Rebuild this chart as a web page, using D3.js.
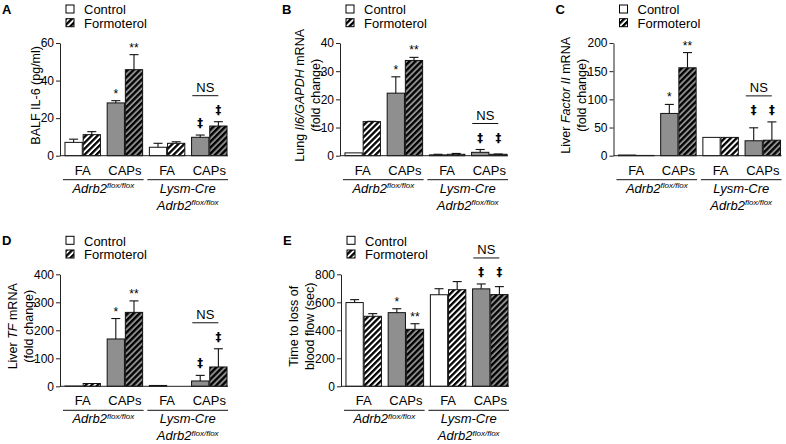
<!DOCTYPE html>
<html><head><meta charset="utf-8">
<script src="https://cdn.jsdelivr.net/npm/d3@7"></script>
<style>
body{margin:0;background:#fff;}
svg{display:block;font-family:"Liberation Sans",Arial,Helvetica,sans-serif;}
</style></head><body>
<svg id="chart" width="786" height="444"></svg>
<script>
// ---------- data ----------
const categories = ["FA", "CAPs", "FA", "CAPs"];
const treatments = ["Control", "Formoterol"];
const genotypes = [[["Adrb2", "flox/flox"]], [["Lysm-Cre", ""], ["Adrb2", "flox/flox"]]];

const aMean = [7.1, 11.2, 28.1, 45.8, 4.5, 6.6, 9.8, 15.8];
const aErr  = [8.8, 12.8, 29.3, 53.8, 6.6, 7.4, 11.0, 18.1];
const aTicks = [0, 20, 40, 60];

const bMean = [1.0, 12.1, 22.2, 33.8, 0.3, 0.5, 1.2, 0.5];
const bErr  = [1.0, 12.2, 28.0, 34.9, 0.5, 0.8, 2.2, 0.6];
const bTicks = [0, 10, 20, 30, 40];

const cMean = [1.2, 0.5, 75, 156, 32.5, 32.5, 26.5, 27.5];
const cErr  = [1.2, 0.5, 91, 183, 32.5, 32.5, 49.5, 60];
const cTicks = [0, 50, 100, 150, 200];

const dMean = [1, 10, 169, 264, 3, 0, 19, 69];
const dErr  = [1, 10, 242, 305, 3, 0, 39, 134];
const dTicks = [0, 100, 200, 300, 400];

const eMean = [598, 500, 526, 407, 654, 690, 696, 655];
const eErr  = [619, 519, 554, 447, 697, 748, 731, 712];
const eTicks = [0, 200, 400, 600, 800];

const aLabel = [[["BALF IL-6 (pg/ml)", false]]];
const bLabel = [[["Lung ", false], ["Il6/GAPDH", true], [" mRNA", false]], [["(fold change)", false]]];
const cLabel = [[["Liver ", false], ["Factor II", true], [" mRNA", false]], [["(fold change)", false]]];
const dLabel = [[["Liver ", false], ["TF", true], [" mRNA", false]], [["(fold change)", false]]];
const eLabel = [[["Time to loss of", false]], [["blood flow (sec)", false]]];

const stars = ["", "", "*", "**", "", "", "", ""];
const daggers = ["", "", "", "", "", "", "\u2021", "\u2021"];
const nsLabel = "NS";

// ---------- layout ----------
const panels = [
  {letter: "A", mean: aMean, err: aErr, ticks: aTicks, ylab: aLabel, ax: 60,    top: 43,    base: 155.7},
  {letter: "B", mean: bMean, err: bErr, ticks: bTicks, ylab: bLabel, ax: 340,   top: 43,    base: 155.7},
  {letter: "C", mean: cMean, err: cErr, ticks: cTicks, ylab: cLabel, ax: 613.5, top: 43,    base: 155.7},
  {letter: "D", mean: dMean, err: dErr, ticks: dTicks, ylab: dLabel, ax: 60,    top: 274.3, base: 386.3},
  {letter: "E", mean: eMean, err: eErr, ticks: eTicks, ylab: eLabel, ax: 341,   top: 274.3, base: 386.3}
];

const GRAY = "#8f8f8f";
const svg = d3.select("#chart");
const defs = svg.append("defs");
function hatch(id, bg) {
  const p = defs.append("pattern").attr("id", id).attr("patternUnits", "userSpaceOnUse")
    .attr("width", 4.2).attr("height", 4.2).attr("patternTransform", "rotate(45)");
  p.append("rect").attr("width", 4.2).attr("height", 4.2).attr("fill", bg);
  p.append("rect").attr("width", 2.3).attr("height", 4.2).attr("fill", "#000");
}
hatch("hatchW", "#fff");
hatch("hatchG", GRAY);

function fillFor(i) {
  const g = Math.floor(i / 2), t = i % 2;
  const gray = g % 2 === 1;
  if (t === 1) return gray ? "url(#hatchG)" : "url(#hatchW)";
  return gray ? GRAY : "#fff";
}

function richText(sel, parts) {
  parts.forEach(([txt, it]) => {
    sel.append("tspan").text(txt).attr("font-style", it ? "italic" : null);
  });
}

panels.forEach(p => {
  const g = svg.append("g");
  const maxT = d3.max(p.ticks);
  const y = d3.scaleLinear().domain([0, maxT]).range([p.base, p.top]);
  const groupKeys = categories.map((c, i) => i);
  const x0 = d3.scaleBand().domain(groupKeys).range([p.ax, p.ax + 172]).paddingInner(0.16).paddingOuter(0.118);
  const x1 = d3.scaleBand().domain(treatments).range([0, x0.bandwidth()]).paddingInner(0.05);
  const bx = i => x0(Math.floor(i / 2)) + x1(treatments[i % 2]);
  const bw = x1.bandwidth();

  // panel letter
  g.append("text").attr("x", p.ax - 58).attr("y", p.top - 29)
    .attr("font-size", 13).attr("font-weight", 900).text(p.letter);

  // legend
  treatments.forEach((t, k) => {
    const ly = p.top - 38 + k * 13.7;
    g.append("rect").attr("x", p.ax + 6).attr("y", ly).attr("width", 8).attr("height", 8)
      .attr("fill", k === 0 ? "#fff" : "url(#hatchW)").attr("stroke", "#000").attr("stroke-width", 1);
    g.append("text").attr("x", p.ax + 24).attr("y", ly + 9.3).attr("font-size", 13).text(t);
  });

  // bars + error bars
  p.mean.forEach((v, i) => {
    const h = p.base - y(v);
    if (v > 0) {
      g.append("rect").attr("x", bx(i)).attr("y", y(v)).attr("width", bw).attr("height", h)
        .attr("fill", fillFor(i)).attr("stroke", "#111").attr("stroke-width", 1);
    }
    const e = p.err[i];
    if (e > v) {
      const cx = bx(i) + bw / 2;
      g.append("line").attr("x1", cx).attr("x2", cx).attr("y1", y(v)).attr("y2", y(e))
        .attr("stroke", "#111").attr("stroke-width", 1.1);
      g.append("line").attr("x1", cx - 4.5).attr("x2", cx + 4.5).attr("y1", y(e)).attr("y2", y(e))
        .attr("stroke", "#111").attr("stroke-width", 1.1);
    }
  });

  // y axis
  const yAxis = d3.axisLeft(y).tickValues(p.ticks).tickSize(4).tickSizeOuter(0).tickPadding(2);
  const ya = g.append("g").attr("transform", `translate(${p.ax},0)`).call(yAxis);
  ya.attr("font-family", null).attr("font-size", null);
  ya.selectAll("text").attr("font-size", 12).attr("fill", "#000");
  ya.selectAll("line,path").attr("stroke", "#222");
  let tickW = 0;
  ya.selectAll("text").each(function () { tickW = Math.max(tickW, this.getComputedTextLength()); });

  // x baseline
  g.append("line").attr("x1", p.ax).attr("x2", x0(3) + x0.bandwidth() + 1)
    .attr("y1", p.base).attr("y2", p.base).attr("stroke", "#222").attr("stroke-width", 1);

  // y label
  const n = p.ylab.length;
  const lastX = p.ax - 6 - tickW - 1;
  const cy = (p.top + p.base) / 2 - 4;
  p.ylab.forEach((line, k) => {
    const lx = lastX - (n - 1 - k) * 16;
    const t = g.append("text").attr("transform", `translate(${lx},${cy}) rotate(-90)`)
      .attr("text-anchor", "middle").attr("font-size", 12.5);
    richText(t, line);
  });

  // category labels
  categories.forEach((c, k) => {
    g.append("text").attr("x", x0(k) + x0.bandwidth() / 2).attr("y", p.base + 19)
      .attr("text-anchor", "middle").attr("font-size", 13).text(c);
  });

  // genotype brackets
  genotypes.forEach((lines, k) => {
    const xa = x0(k * 2) - 2, xb = x0(k * 2 + 1) + x0.bandwidth() + 1;
    g.append("line").attr("x1", xa).attr("x2", xb).attr("y1", p.base + 24).attr("y2", p.base + 24)
      .attr("stroke", "#111").attr("stroke-width", 1);
    lines.forEach((ln, j) => {
      const t = g.append("text").attr("x", (xa + xb) / 2).attr("y", p.base + 37 + j * 17)
        .attr("text-anchor", "middle").attr("font-size", 13).attr("font-style", "italic");
      t.append("tspan").text(ln[0]);
      if (ln[1]) t.append("tspan").attr("font-size", 8).attr("dy", -4.5).text(ln[1]);
    });
  });

  // stars
  stars.forEach((s, i) => {
    if (!s) return;
    g.append("text").attr("x", bx(i) + bw / 2).attr("y", y(p.err[i]) - 3)
      .attr("text-anchor", "middle").attr("font-size", 12).text(s);
  });

  // daggers
  const dIdx = daggers.map((d, i) => d ? i : -1).filter(i => i >= 0);
  let centers = dIdx.map(i => y(p.err[i]) - 12);
  if (Math.abs(centers[0] - centers[1]) < 6) { const m = Math.min(...centers); centers = centers.map(() => m); }
  dIdx.forEach((i, k) => {
    g.append("text").attr("x", bx(i) + bw / 2).attr("y", centers[k] + 4)
      .attr("text-anchor", "middle").attr("font-size", 11.5).attr("font-weight", "bold")
      .attr("font-family", "'DejaVu Sans', sans-serif").attr("fill", "#000").text(daggers[i]);
  });

  // NS bracket
  const lineY = Math.min(...centers) - 14;
  const mid = x0(3) + x0.bandwidth() / 2;
  g.append("line").attr("x1", mid - 17).attr("x2", mid + 9).attr("y1", lineY).attr("y2", lineY)
    .attr("stroke", "#111").attr("stroke-width", 1);
  g.append("text").attr("x", mid - 4).attr("y", lineY - 3.7).attr("text-anchor", "middle")
    .attr("font-size", 13).text(nsLabel);
});
</script>
</body></html>
